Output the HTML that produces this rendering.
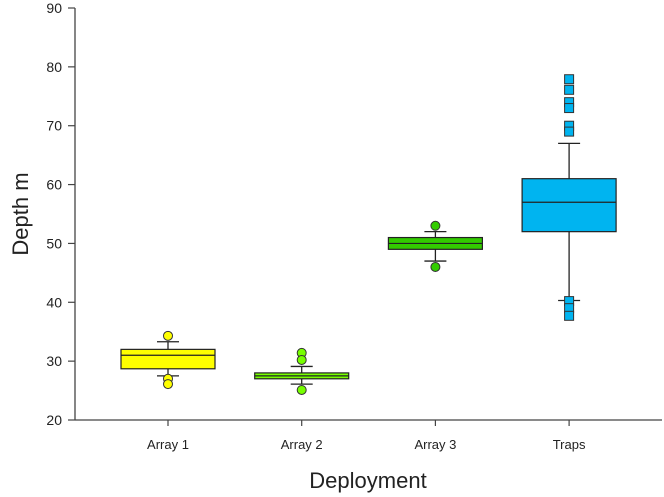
<!DOCTYPE html>
<html><head><meta charset="utf-8"><style>
body{margin:0;background:#fff}
svg{display:block;font-family:"Liberation Sans",Arial,sans-serif}
</style></head><body>
<svg id="c" width="664" height="497"></svg>
<script>
const categories=["Array 1","Array 2","Array 3","Traps"];
const q1=[28.7,27.0,49.0,52.0];
const medians=[31.0,27.5,50.0,57.0];
const q3=[32.0,28.0,51.0,61.0];
const whiskerLow=[27.5,26.1,47.0,40.3];
const whiskerHigh=[33.3,29.1,52.0,67.0];
const outliers=[[34.3,27.0,26.1],[31.4,30.2,25.1],[53.0,46.0],[77.9,76.1,74.0,73.0,70.0,69.0,40.2,39.0,37.7]];
const colors=["#ffff00","#77ff00","#33cc00","#00b4f0"];
const yTicks=[20,30,40,50,60,70,80,90];
const ns="http://www.w3.org/2000/svg";
const svg=document.getElementById('c');
const X0=75,X1=662,Y0=420,Y1=8;
const y=v=>Y0-(v-20)/(90-20)*(Y0-Y1);
const x=i=>168+i*133.7;
const BW=94;
function mk(t,a,p){const e=document.createElementNS(ns,t);for(const k in a)e.setAttribute(k,a[k]);(p||svg).appendChild(e);return e;}
let e;
e=mk('line',{x1:X0,y1:Y1,x2:X0,y2:Y0,stroke:'#444','stroke-width':1.3});


e=mk('line',{x1:X0,y1:Y0,x2:X1,y2:Y0,stroke:'#444','stroke-width':1.3});


yTicks.forEach(t=>{
 e=mk('line',{x1:X0-7,y1:y(t),x2:X0,y2:y(t),stroke:'#444','stroke-width':1.2});
 
 
 e=mk('text',{x:62,y:y(t)+5,'text-anchor':'end','font-size':14,fill:'#222'});e.textContent=t;
 
 
});
categories.forEach((c,i)=>{
 const cx=x(i);
 e=mk('line',{x1:cx,y1:Y0,x2:cx,y2:Y0+6,stroke:'#444','stroke-width':1.2});
 
 
 e=mk('text',{x:cx,y:449,'text-anchor':'middle','font-size':13,fill:'#222'});e.textContent=c;
 
 
 const g=mk('g',{});
 
 
 mk('line',{x1:cx,y1:y(whiskerHigh[i]),x2:cx,y2:y(q3[i]),stroke:'#222','stroke-width':1.3},g);
 mk('line',{x1:cx,y1:y(whiskerLow[i]),x2:cx,y2:y(q1[i]),stroke:'#222','stroke-width':1.3},g);
 mk('line',{x1:cx-11,y1:y(whiskerHigh[i]),x2:cx+11,y2:y(whiskerHigh[i]),stroke:'#222','stroke-width':1.3},g);
 mk('line',{x1:cx-11,y1:y(whiskerLow[i]),x2:cx+11,y2:y(whiskerLow[i]),stroke:'#222','stroke-width':1.3},g);
 mk('rect',{x:cx-BW/2,y:y(q3[i]),width:BW,height:y(q1[i])-y(q3[i]),fill:colors[i],stroke:'#222','stroke-width':1.2},g);
 mk('line',{x1:cx-BW/2,y1:y(medians[i]),x2:cx+BW/2,y2:y(medians[i]),stroke:'#222','stroke-width':1.2},g);
 outliers[i].forEach(o=>{
  if(i===3) e=mk('rect',{x:cx-4.5,y:y(o)-4.5,width:9,height:9,fill:colors[i],stroke:'#333','stroke-width':1},g);
  else e=mk('circle',{cx:cx,cy:y(o),r:4.5,fill:colors[i],stroke:'#333','stroke-width':1},g);
  
  
 });
});
e=mk('text',{x:0,y:0,'text-anchor':'middle','font-size':22,fill:'#222',transform:'translate(28,214) rotate(-90)'});e.textContent='Depth m';


e=mk('text',{x:368,y:488,'text-anchor':'middle','font-size':22,fill:'#222'});e.textContent='Deployment';


</script>
</body></html>
